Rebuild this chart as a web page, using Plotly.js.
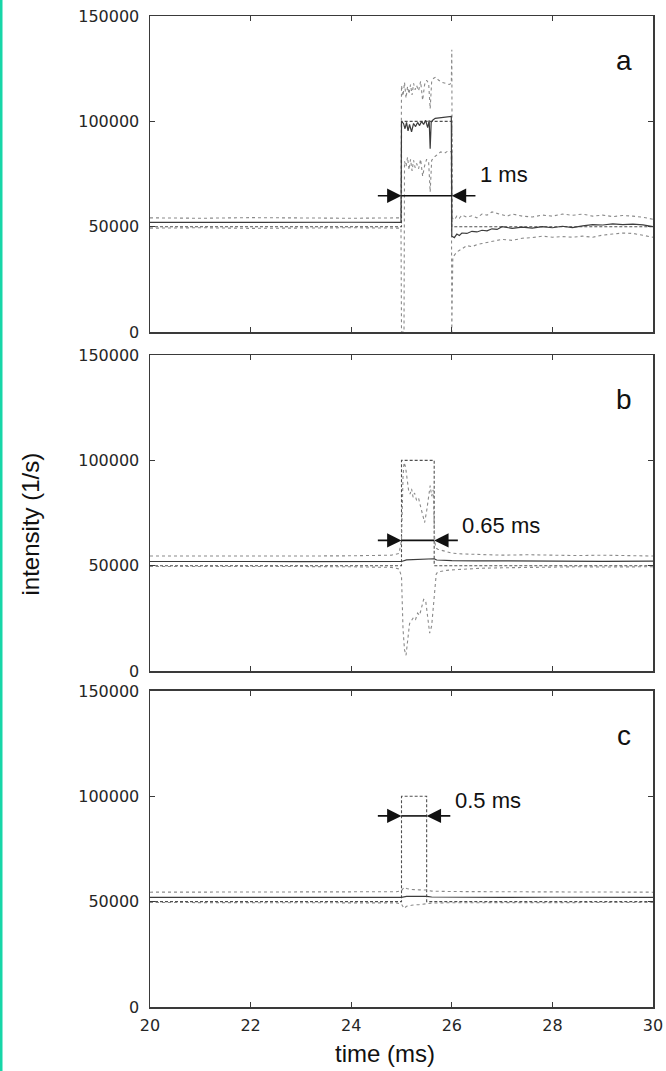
<!DOCTYPE html>
<html>
<head>
<meta charset="utf-8">
<script src="https://cdn.plot.ly/plotly-3.0.1.min.js"></script>
<style>
  html, body { margin: 0; padding: 0; background: #ffffff; }
  #chart { width: 666px; height: 1071px; }
</style>
</head>
<body>
<div id="chart"></div>
<script>
// ---- axis ticks ----
const xTickVals = [20, 22, 24, 26, 28, 30];
const xTickText = ['20', '22', '24', '26', '28', '30'];
const yTickVals = [0, 50000, 100000, 150000];
const yTickText = ['0', '50000', '100000', '150000'];

// ---- panel labels and pulse widths ----
const panelLetters = ['a', 'b', 'c'];
const widthLabels = ['1 ms', '0.65 ms', '0.5 ms'];
const pulseStart = [25, 25, 25];
const pulseEnd = [26, 25.65, 25.5];
const arrowLevel = [64700, 62000, 90700];

// ---- panel a: 1 ms pulse ----
const aRefT = [20, 25, 25, 26, 26, 30];
const aRefI = [50000, 50000, 100000, 100000, 50000, 50000];
const aMeanT = [20, 21, 22, 23, 24, 24.99, 25.0, 25.04, 25.07, 25.1, 25.13, 25.16, 25.2, 25.24, 25.28, 25.32,
  25.36, 25.4, 25.44, 25.48, 25.52, 25.55, 25.57, 25.59, 25.62, 25.67, 25.75, 25.85, 25.99,
  26.0, 26.05, 26.1, 26.15, 26.2, 26.3, 26.4, 26.5, 26.6, 26.7, 26.8, 26.9, 27.0, 27.2, 27.4, 27.6, 27.8,
  28.0, 28.2, 28.4, 28.6, 28.8, 29.0, 29.2, 29.4, 29.6, 29.8, 30.0];
const aMeanI = [52000, 52100, 51900, 52000, 52100, 52000, 100000, 99000, 96500, 99500, 95500, 98500, 95000, 99000, 97500, 99500,
  98000, 100000, 98500, 100500, 97000, 100500, 87000, 99500, 100500, 101400, 101700, 102000, 102300,
  45500, 44800, 46500, 45800, 47000, 46800, 47800, 47500, 48300, 48000, 49000, 48700, 50000, 49200, 49800, 49300, 50000,
  49500, 50200, 49600, 50400, 51000, 50800, 51300, 51000, 51200, 50900, 50000];
const aUpT = [20, 21, 22, 23, 24, 24.99, 25.0, 25.03, 25.06, 25.09, 25.12, 25.15, 25.18, 25.21, 25.24, 25.27,
  25.3, 25.34, 25.38, 25.42, 25.46, 25.5, 25.54, 25.57, 25.6, 25.64, 25.68, 25.74, 25.8, 25.88, 25.95, 25.99,
  26.0, 26.01, 26.05, 26.1, 26.15, 26.2, 26.3, 26.4, 26.5, 26.6, 26.7, 26.8, 26.9, 27.0, 27.1, 27.2, 27.4, 27.6, 27.8, 28.0,
  28.2, 28.4, 28.6, 28.8, 29.0, 29.2, 29.4, 29.6, 29.8, 30.0];
const aUpI = [54200, 54000, 54300, 54100, 54000, 54200, 117000, 112000, 118500, 111000, 116500, 113000, 117500, 112500, 118000, 115000,
  117000, 114500, 119000, 110000, 117500, 119500, 118000, 106000, 119000, 120500, 121000, 119500, 118500, 118000, 117500, 118000,
  134000, 54000, 53200, 55000, 54000, 55500, 54500, 55200, 54200, 56000, 55500, 57000, 56300, 55800, 55000, 56000, 55000, 54600, 55500, 55000,
  56000, 55400, 56000, 55000, 55500, 54800, 55300, 55000, 54500, 53500];
const aLoT = [20, 21, 22, 23, 24, 24.99, 25.0, 25.05, 25.06, 25.09, 25.12, 25.15, 25.18, 25.21, 25.24, 25.27,
  25.3, 25.34, 25.38, 25.42, 25.46, 25.5, 25.54, 25.57, 25.6, 25.65, 25.7, 25.78, 25.86, 25.93, 25.99,
  26.0, 26.02, 26.06, 26.1, 26.2, 26.3, 26.4, 26.5, 26.6, 26.7, 26.8, 26.9, 27.0, 27.2, 27.4, 27.6, 27.8, 28.0, 28.2, 28.4,
  28.6, 28.8, 29.0, 29.2, 29.4, 29.6, 29.8, 30.0];
const aLoI = [49300, 49500, 49200, 49400, 49500, 49300, 0, 0, 81000, 78500, 83000, 77000, 82000, 76500, 81500, 78000,
  80000, 77500, 82000, 74000, 79000, 82000, 80500, 66500, 81500, 83000, 84000, 85500, 85000, 86000, 85500,
  0, 35500, 36500, 38000, 39500, 41000, 40500, 41500, 42000, 42500, 43000, 43500, 44000, 43500, 44500, 44800, 45500, 45000, 45300, 45000,
  45500, 45000, 46000, 46500, 47000, 46800, 46000, 45000];

// ---- panel b: 0.65 ms pulse ----
const bRefT = [20, 25, 25, 25.65, 25.65, 30];
const bRefI = [50000, 50000, 100000, 100000, 50000, 50000];
const bMeanT = [20, 21, 22, 23, 24, 25.0, 25.1, 25.3, 25.5, 25.65, 25.7, 26.0, 26.5, 27, 28, 29, 30];
const bMeanI = [52000, 52100, 52000, 51900, 52000, 52000, 52800, 53000, 53200, 53300, 52700, 52400, 52300, 52200, 52200, 52100, 52200];
const bUpT = [20, 21, 22, 23, 24, 24.8, 24.95, 25.0, 25.03, 25.05, 25.08, 25.11, 25.14, 25.17, 25.2, 25.23, 25.26,
  25.3, 25.34, 25.38, 25.42, 25.46, 25.5, 25.54, 25.57, 25.6, 25.63, 25.66, 25.68, 25.72, 25.8, 25.9, 26.0, 26.2, 26.5, 27.0, 27.5,
  28.0, 28.5, 29.0, 29.5, 30.0];
const bUpI = [54600, 54500, 54700, 54600, 54700, 55000, 55800, 62000, 92000, 99000, 97000, 91000, 86000, 84000, 86500, 82500, 84500,
  81000, 82000, 78000, 74000, 70500, 76000, 84000, 88000, 83000, 86000, 62000, 58500, 57800, 57200, 56600, 56000, 55600, 55300, 55000, 55200,
  54900, 54800, 55000, 54700, 54600];
const bLoT = [20, 21, 22, 23, 24, 24.8, 24.95, 25.0, 25.03, 25.06, 25.09, 25.12, 25.16, 25.2, 25.24, 25.28, 25.32,
  25.36, 25.4, 25.44, 25.48, 25.52, 25.56, 25.6, 25.63, 25.66, 25.69, 25.72, 25.8, 25.9, 26.0, 26.3, 26.6, 27.0, 27.5, 28.0, 28.5,
  29.0, 29.5, 30.0];
const bLoI = [49600, 49700, 49500, 49600, 49500, 49200, 48500, 45000, 20000, 10000, 7500, 15000, 22500, 24000, 25500, 24500, 27500,
  26500, 30000, 34000, 33500, 24000, 18000, 21500, 30000, 40000, 46000, 47000, 47500, 47800, 48000, 48500, 48800, 49000, 49200, 49300, 49500,
  49400, 49500, 49500];

// ---- panel c: 0.5 ms pulse ----
const cRefT = [20, 25, 25, 25.5, 25.5, 30];
const cRefI = [50000, 50000, 100000, 100000, 50000, 50000];
const cMeanT = [20, 21, 22, 23, 24, 25.0, 25.1, 25.3, 25.5, 25.6, 26, 27, 28, 29, 30];
const cMeanI = [52000, 52100, 51900, 52000, 52000, 52000, 52500, 52600, 52500, 52200, 52100, 52000, 52100, 52000, 52000];
const cUpT = [20, 21, 22, 23, 24, 24.9, 25.0, 25.05, 25.1, 25.2, 25.35, 25.5, 25.6, 26, 27, 28, 29, 30];
const cUpI = [54500, 54600, 54400, 54500, 54600, 54700, 55200, 56800, 56200, 55800, 55600, 55500, 55000, 54800, 54700, 54600, 54500, 54500];
const cLoT = [20, 21, 22, 23, 24, 24.9, 25.0, 25.05, 25.1, 25.2, 25.35, 25.5, 25.6, 26, 27, 28, 29, 30];
const cLoI = [49600, 49500, 49700, 49600, 49500, 49400, 48800, 46800, 47800, 48300, 48600, 48900, 49300, 49500, 49600, 49500, 49600, 49600];

const panels = [
  { ref: [aRefT, aRefI], mean: [aMeanT, aMeanI], up: [aUpT, aUpI], lo: [aLoT, aLoI] },
  { ref: [bRefT, bRefI], mean: [bMeanT, bMeanI], up: [bUpT, bUpI], lo: [bLoT, bLoI] },
  { ref: [cRefT, cRefI], mean: [cMeanT, cMeanI], up: [cUpT, cUpI], lo: [cLoT, cLoI] }
];

// ---- styling ----
const AXIS_COLOR = '#3a3a3a';
const TEXT_FONT = 'Liberation Sans, Arial, sans-serif';
const TICK_FONT = 'DejaVu Sans, sans-serif';
const domains = [[0.6811, 1.0], [0.3390, 0.6579], [0.0, 0.3189]];
const labelShift = [21.7, 15.3, 15.5];

const lineStyles = {
  ref:  { color: '#505050', width: 1.1, dash: '3px,2px' },
  mean: { color: '#3c3c3c', width: 1.2 },
  up:   { color: '#8a8a8a', width: 1.1, dash: 'dot' },
  lo:   { color: '#8a8a8a', width: 1.1, dash: 'dot' }
};

const traces = [];
const annotations = [];
const shapes = [];
const layout = {
  width: 666,
  height: 1071,
  margin: { l: 150, r: 13, t: 16, b: 64 },
  paper_bgcolor: '#ffffff',
  plot_bgcolor: '#ffffff',
  showlegend: false,
  annotations: annotations,
  shapes: shapes
};

panels.forEach((p, i) => {
  const n = i === 0 ? '' : String(i + 1);
  ['ref', 'up', 'lo', 'mean'].forEach(key => {
    traces.push({
      type: 'scatter',
      mode: 'lines',
      x: p[key][0],
      y: p[key][1],
      xaxis: 'x' + n,
      yaxis: 'y' + n,
      line: lineStyles[key],
      hoverinfo: 'skip'
    });
  });

  const common = {
    showline: true, linecolor: AXIS_COLOR, linewidth: 1.5, mirror: 'ticks',
    ticks: 'inside', ticklen: 5, tickwidth: 1.3, tickcolor: AXIS_COLOR,
    showgrid: false, zeroline: false, fixedrange: true,
    tickfont: { family: TICK_FONT, size: 16, color: '#262626' }
  };
  layout['xaxis' + n] = Object.assign({}, common, {
    range: [20, 30], tickmode: 'array', tickvals: xTickVals, ticktext: xTickText,
    showticklabels: i === 2, anchor: 'y' + n, domain: [0, 1],
    ticklabelstandoff: 3
  });
  layout['yaxis' + n] = Object.assign({}, common, {
    range: [0, 150000], tickmode: 'array', tickvals: yTickVals, ticktext: yTickText,
    anchor: 'x' + n, domain: domains[i],
    ticklabelstandoff: 6
  });

  const xr = 'x' + n, yr = 'y' + n;
  const lvl = arrowLevel[i];
  // inward arrows marking the pulse width
  annotations.push({
    xref: xr, yref: yr, axref: xr, ayref: yr,
    x: pulseStart[i], y: lvl, ax: pulseStart[i] - 0.5, ay: lvl,
    text: '', showarrow: true, arrowhead: 2, arrowsize: 1.8, arrowwidth: 1.6,
    arrowcolor: '#111', standoff: 0, startstandoff: 0
  });
  annotations.push({
    xref: xr, yref: yr, axref: xr, ayref: yr,
    x: pulseEnd[i], y: lvl, ax: pulseEnd[i] + 0.5, ay: lvl,
    text: '', showarrow: true, arrowhead: 2, arrowsize: 1.8, arrowwidth: 1.6,
    arrowcolor: '#111', standoff: 0, startstandoff: 0
  });
  shapes.push({
    type: 'line', xref: xr, yref: yr,
    x0: pulseStart[i], x1: pulseEnd[i], y0: lvl, y1: lvl,
    line: { color: '#111', width: 1.6 }
  });
  // pulse width text
  annotations.push({
    xref: xr, yref: yr, x: pulseEnd[i] + 0.5, y: lvl,
    xanchor: 'left', yanchor: 'middle', yshift: labelShift[i], xshift: 1,
    text: widthLabels[i], showarrow: false,
    font: { family: TEXT_FONT, size: 22, color: '#111' }
  });
  // panel letter
  annotations.push({
    xref: xr, yref: yr, x: 29.42, y: 129000,
    xanchor: 'center', yanchor: 'middle',
    text: panelLetters[i], showarrow: false,
    font: { family: TEXT_FONT, size: 28, color: '#111' }
  });
});

// axis titles
annotations.push({
  xref: 'paper', yref: 'paper', x: 0.4672, y: -0.0474,
  xanchor: 'center', yanchor: 'middle', showarrow: false,
  text: 'time (ms)', font: { family: TEXT_FONT, size: 24, color: '#111' }
});
annotations.push({
  xref: 'paper', yref: 'paper', x: -0.2366, y: 0.4879,
  xanchor: 'center', yanchor: 'middle', showarrow: false, textangle: -90,
  text: 'intensity (1/s)', font: { family: TEXT_FONT, size: 24, color: '#111' }
});

// accent stripe along the left edge
shapes.push({
  type: 'rect', xref: 'paper', yref: 'paper',
  x0: -150 / 503, x1: -147.5 / 503, y0: -64 / 991, y1: 1007 / 991,
  fillcolor: '#17d6a8', line: { width: 0 }, layer: 'above'
});

Plotly.newPlot('chart', traces, layout, { staticPlot: true, displayModeBar: false });
</script>
</body>
</html>
